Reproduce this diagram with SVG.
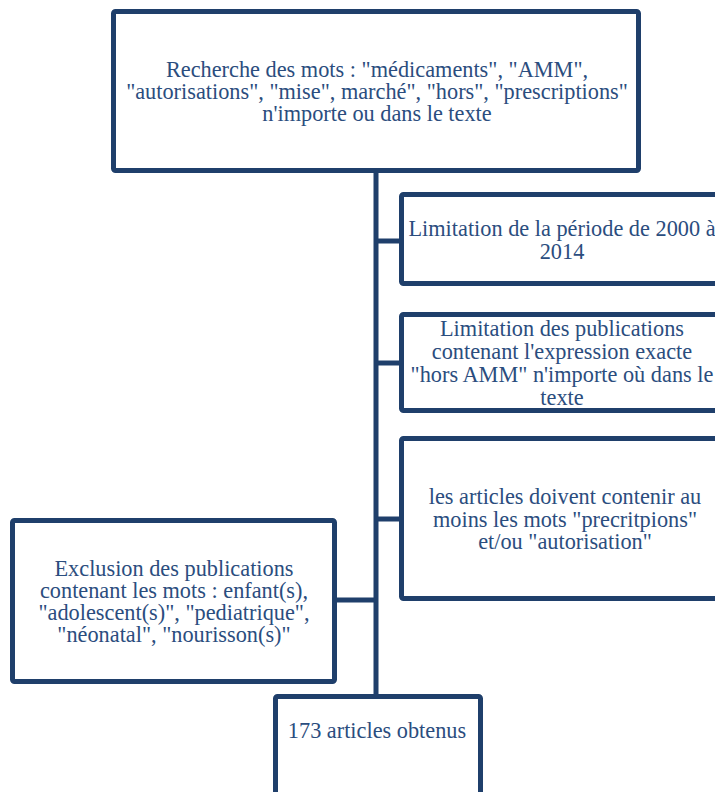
<svg xmlns="http://www.w3.org/2000/svg" width="715" height="792" viewBox="0 0 715 792">
<style>
.box{fill:#fff;stroke:#1f3f6b;stroke-width:5;}
.ln{stroke:#1f3f6b;stroke-width:5;fill:none;}
text{font-family:"Liberation Serif","DejaVu Serif",serif;font-size:22.3px;fill:#2b4d7e;text-anchor:middle;}
</style>
<rect width="715" height="792" fill="#fff"/>
<g id="connectors">
<line class="ln" x1="376" y1="172" x2="376" y2="697"/>
<line class="ln" x1="376" y1="241" x2="401" y2="241"/>
<line class="ln" x1="376" y1="363" x2="401" y2="363"/>
<line class="ln" x1="376" y1="519" x2="401" y2="519"/>
<line class="ln" x1="335" y1="600" x2="376" y2="600"/>
</g>
<g id="n1">
<rect class="box" x="113.5" y="11.5" width="525" height="159" rx="2"/>
<text x="377" y="77">Recherche des mots : "médicaments", "AMM",</text>
<text x="377" y="99">"autorisations", "mise", marché", "hors", "prescriptions"</text>
<text x="377" y="121">n'importe ou dans le texte</text>
</g>
<g id="n2">
<rect class="box" x="401.5" y="194.5" width="325" height="89" rx="2"/>
<text x="562" y="236">Limitation de la période de 2000 à</text>
<text x="562" y="259">2014</text>
</g>
<g id="n3">
<rect class="box" x="401.5" y="314.5" width="325" height="96" rx="2"/>
<text x="562" y="336">Limitation des publications</text>
<text x="562" y="359">contenant l'expression exacte</text>
<text x="562" y="382">"hors AMM" n'importe où dans le</text>
<text x="562" y="405">texte</text>
</g>
<g id="n4">
<rect class="box" x="401.5" y="438.5" width="325" height="160" rx="2"/>
<text x="565" y="504">les articles doivent contenir au</text>
<text x="565" y="527">moins les mots "precritpions"</text>
<text x="565" y="549">et/ou "autorisation"</text>
</g>
<g id="n5">
<rect class="box" x="12.5" y="520.5" width="322" height="161" rx="2"/>
<text x="174" y="576">Exclusion des publications</text>
<text x="174" y="598">contenant les mots : enfant(s),</text>
<text x="174" y="620">"adolescent(s)", "pediatrique",</text>
<text x="174" y="642">"néonatal", "nourisson(s)"</text>
</g>
<g id="n6">
<rect class="box" x="275.5" y="696.5" width="205" height="110" rx="2"/>
<text x="377" y="738">173 articles obtenus</text>
</g>
</svg>
